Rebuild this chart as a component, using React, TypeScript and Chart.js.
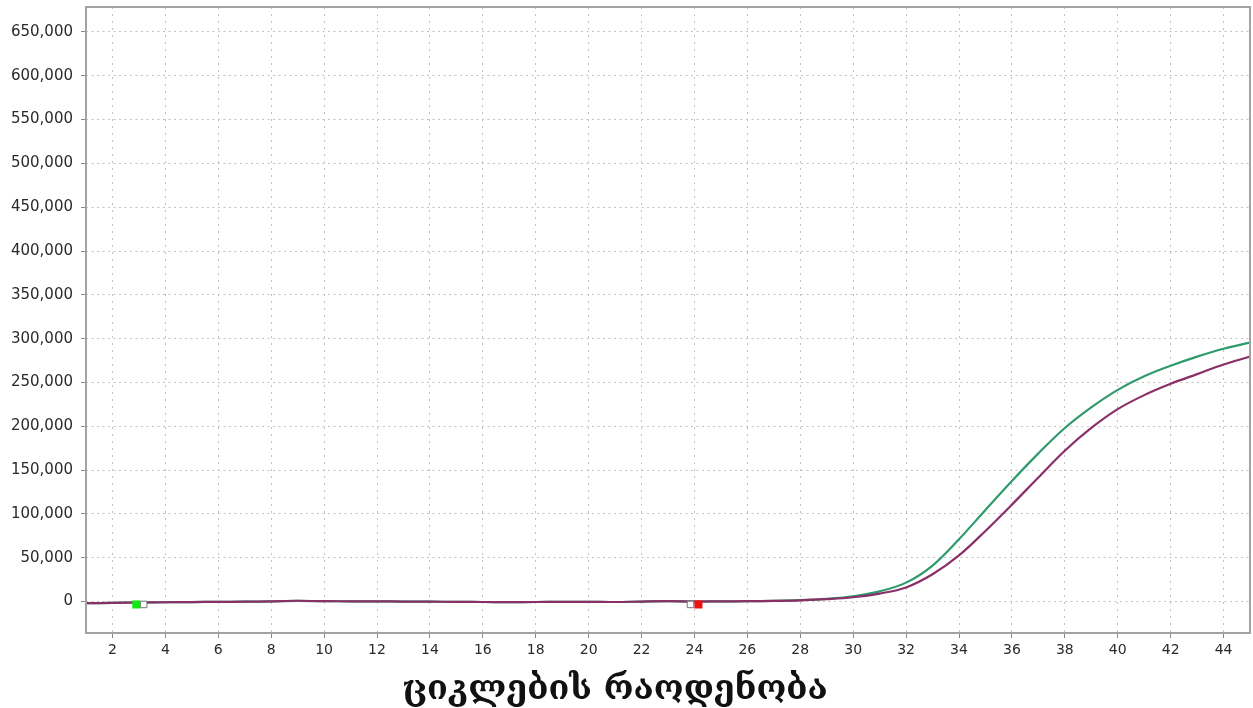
import React, { useEffect, useRef } from 'react';
import { Chart, registerables } from 'chart.js';

Chart.register(...registerables);

// ---- data ----
const CYCLES = [
  1, 2, 3, 4, 5, 6, 7, 8, 9, 10, 11, 12, 13, 14, 15, 16, 17, 18, 19, 20, 21, 22, 23,
  24, 25, 26, 27, 28, 29, 30, 31, 32, 33, 34, 35, 36, 37, 38, 39, 40, 41, 42, 43, 44, 45,
];

const GREEN_SERIES = [
  -2000, -1600, -1200, -900, -700, -400, -300, 200, 700, 300, 200, 100, -100, -300, -400,
  -600, -700, -600, -400, -500, -600, -100, 300, -100, 100, 300, 700, 1500, 3000, 5800,
  11500, 21500, 41000, 71000, 104500, 137500, 169000, 198000, 221500, 241500, 257000,
  269000, 279500, 288500, 295500,
];

const PURPLE_SERIES = [
  -2000, -1600, -1200, -900, -700, -400, -300, 200, 800, 300, 200, 100, -100, -300, -400,
  -600, -700, -600, -400, -500, -600, -100, 300, -100, 100, 300, 600, 1300, 2600, 4800,
  9000, 16000, 31000, 52500, 80500, 110500, 141500, 172000, 198000, 219500, 235500,
  248500, 259500, 270500, 279500,
];

const X_TICKS = [2, 4, 6, 8, 10, 12, 14, 16, 18, 20, 22, 24, 26, 28, 30, 32, 34, 36, 38, 40, 42, 44];
const Y_TICKS = [
  0, 50000, 100000, 150000, 200000, 250000, 300000, 350000, 400000, 450000, 500000,
  550000, 600000, 650000,
];

// baseline window markers (start / end)
const START_MARK_FILLED = { x: 2.9, y: -3400 };
const START_MARK_EMPTY = { x: 3.18, y: -3400 };
const END_MARK_EMPTY = { x: 23.85, y: -3400 };
const END_MARK_FILLED = { x: 24.15, y: -3400 };

const X_TITLE = 'ციკლების რაოდენობა';

const X_MIN = 1;
const X_MAX = 45;
const Y_MIN = -36000;
const Y_MAX = 678500;

export default function App() {
  const canvasRef = useRef<HTMLCanvasElement | null>(null);

  useEffect(() => {
    document.body.style.margin = '0';
    const canvas = canvasRef.current;
    if (!canvas) return;

    const zeroPad = (s: any) => {
      s.paddingLeft = 0;
      s.paddingRight = 0;
      s.paddingTop = 0;
      s.paddingBottom = 0;
    };

    const framePlugin = {
      id: 'frameAndTitle',
      afterDraw(chart: any) {
        const { ctx, chartArea } = chart;
        ctx.save();
        ctx.strokeStyle = '#a3a3a3';
        ctx.lineWidth = 2;
        ctx.strokeRect(chartArea.left, chartArea.top, chartArea.right - chartArea.left, chartArea.bottom - chartArea.top);
        ctx.fillStyle = '#111';
        ctx.font = 'bold 34px "DejaVu Serif", "DejaVu Sans", serif';
        ctx.textAlign = 'center';
        ctx.textBaseline = 'alphabetic';
        ctx.fillText(X_TITLE, 615, 699);
        ctx.restore();
      },
    };

    const lineCommon = {
      borderWidth: 2.2,
      pointRadius: 0,
      tension: 0.35,
      fill: false,
    };

    const chart = new Chart(canvas, {
      type: 'line',
      data: {
        datasets: [
          {
            type: 'scatter',
            data: [START_MARK_FILLED],
            pointStyle: 'rect',
            pointRadius: 5.7,
            backgroundColor: '#14e814',
            borderColor: '#14e814',
            borderWidth: 0,
            order: 1,
          } as any,
          {
            type: 'scatter',
            data: [START_MARK_EMPTY, END_MARK_EMPTY],
            pointStyle: 'rect',
            pointRadius: 4.6,
            backgroundColor: '#ffffff',
            borderColor: '#777777',
            borderWidth: 1,
            order: 1,
          } as any,
          {
            type: 'scatter',
            data: [END_MARK_FILLED],
            pointStyle: 'rect',
            pointRadius: 5.7,
            backgroundColor: '#f01010',
            borderColor: '#f01010',
            borderWidth: 0,
            order: 1,
          } as any,
          {
            label: 'purple',
            data: CYCLES.map((c, i) => ({ x: c, y: PURPLE_SERIES[i] })),
            borderColor: '#8a2f68',
            ...lineCommon,
            order: 2,
          },
          {
            label: 'green',
            data: CYCLES.map((c, i) => ({ x: c, y: GREEN_SERIES[i] })),
            borderColor: '#2f9a6c',
            ...lineCommon,
            order: 3,
          },
        ],
      },
      options: {
        animation: false,
        responsive: false,
        maintainAspectRatio: false,
        layout: { autoPadding: false, padding: { left: 0, top: 7, right: 3, bottom: 0 } },
        plugins: {
          legend: { display: false },
          tooltip: { enabled: false },
          title: { display: false },
        },
        scales: {
          x: {
            type: 'linear',
            min: X_MIN,
            max: X_MAX,
            afterBuildTicks: (scale: any) => {
              scale.ticks = X_TICKS.map((v) => ({ value: v }));
            },
            afterFit: (scale: any) => {
              scale.height = 75;
              zeroPad(scale);
            },
            grid: {
              color: '#c2c2c2',
              lineWidth: 1,
              drawTicks: true,
              tickLength: 5,
              tickColor: '#8a8a8a',
              tickWidth: 1,
            },
            border: { display: false, dash: [2, 5] },
            ticks: {
              autoSkip: false,
              maxRotation: 0,
              padding: 4,
              color: '#2a2a2a',
              font: { family: '"DejaVu Sans", sans-serif', size: 14 },
              callback: (v: any) => String(v),
            },
          },
          y: {
            type: 'linear',
            min: Y_MIN,
            max: Y_MAX,
            afterBuildTicks: (scale: any) => {
              scale.ticks = Y_TICKS.map((v) => ({ value: v }));
            },
            afterFit: (scale: any) => {
              scale.width = 86;
              zeroPad(scale);
            },
            grid: {
              color: '#c2c2c2',
              lineWidth: 1,
              drawTicks: true,
              tickLength: 5,
              tickColor: '#8a8a8a',
              tickWidth: 1,
            },
            border: { display: false, dash: [2, 3.5] },
            ticks: {
              autoSkip: false,
              padding: 8,
              color: '#2a2a2a',
              font: { family: '"DejaVu Sans", sans-serif', size: 15 },
              callback: (v: any) => Number(v).toLocaleString('en-US'),
            },
          },
        },
      },
      plugins: [framePlugin],
    });

    return () => chart.destroy();
  }, []);

  return (
    <div style={{ position: 'fixed', left: 0, top: 0, width: 1253, height: 708, background: '#fff' }}>
      <canvas ref={canvasRef} width={1253} height={708} style={{ display: 'block', width: 1253, height: 708 }} />
    </div>
  );
}
